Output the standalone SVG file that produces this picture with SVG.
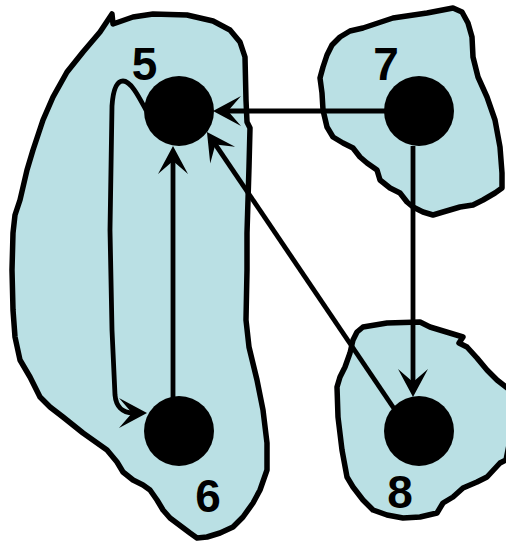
<svg xmlns="http://www.w3.org/2000/svg" width="506" height="543" viewBox="0 0 506 543">
<style>
.blob{fill:#bae0e4;stroke:#000;stroke-width:5.5;stroke-linejoin:round}
.edge{fill:none;stroke:#000;stroke-width:4.8}
.node{fill:#000}
.lbl{font-family:"Liberation Sans",Arial,sans-serif;font-weight:bold;font-size:46px;fill:#000;text-anchor:middle}
</style>
<defs>
<marker id="arr" markerUnits="userSpaceOnUse" viewBox="-29 -17 31 34" refX="-14" refY="0" markerWidth="31" markerHeight="34" orient="auto">
<path d="M0,0 L-28,-15 L-15,0 L-28,15 Z" fill="#000"/>
</marker>
</defs>
<g id="regions">
<path id="region-56" class="blob" d="M112,14 L113,24 L133,17 L153,14 L187,15 L213,21 L230,30 L240,42 L245,57 L246,100 L247,122 L250,128 L249,167 L248,200 L247,233 L247,270 L246,320 L249,347 L257,380 L263,410 L267,443 L267,470 L260,490 L253,503 L243,517 L233,527 L220,533 L207,537 L197,538 L190,533 L182,527 L170,518 L163,510 L157,500 L150,490 L143,485 L133,480 L123,472 L117,462 L107,450 L83,433 L63,417 L50,407 L40,397 L30,377 L20,360 L15,337 L13,310 L12,270 L13,233 L15,215 L20,200 L27,170 L33,150 L43,120 L53,97 L67,72 L83,52 L100,32 Z"/>
<path id="region-7" class="blob" d="M350,31 L363,28 L393,18 L427,13 L453,8 L462,12 L468,23 L472,37 L473,57 L478,77 L487,97 L495,120 L500,147 L502,173 L502,188 L495,193 L483,200 L473,205 L460,207 L443,212 L433,215 L423,212 L413,207 L407,202 L400,193 L390,188 L380,180 L377,170 L367,163 L360,157 L353,148 L343,143 L333,137 L327,127 L323,110 L322,93 L320,78 L323,67 L327,55 L332,45 L340,37 Z"/>
<path id="region-8" class="blob" d="M357,332 L363,327 L387,323 L420,322 L430,327 L463,337 L459,343 L467,347 L477,358 L487,370 L497,380 L510,390 L512,430 L506,460 L500,463 L487,477 L477,482 L463,488 L453,497 L443,503 L437,513 L420,517 L403,518 L387,515 L373,510 L363,500 L353,487 L347,477 L342,450 L338,417 L337,387 L340,377 L345,367 L350,353 L353,340 Z"/>
</g>
<g id="connectors">
<path id="e7-5" class="edge" d="M390,111 L227,111" marker-end="url(#arr)"/>
<path id="e6-5" class="edge" d="M173,400 L173,160" marker-end="url(#arr)"/>
<path id="e8-5" class="edge" d="M395,410 L214.8,143.6" marker-end="url(#arr)"/>
<path id="e7-8" class="edge" d="M413,146 L413,383" marker-end="url(#arr)"/>
<path id="e5-6" class="edge" d="M146,110 C139,97 131,81 123,81 C116,81 113,91 112,106 L110,230 L112,330 L115,395 C116,406 122,413 133,413" marker-end="url(#arr)"/>
</g>
<g id="node-5"><circle class="node" cx="179" cy="111" r="35"/><text class="lbl" x="144.5" y="80">5</text></g>
<g id="node-6"><circle class="node" cx="179" cy="431" r="35"/><text class="lbl" x="208" y="512">6</text></g>
<g id="node-7"><circle class="node" cx="419" cy="111" r="35"/><text class="lbl" x="386" y="80">7</text></g>
<g id="node-8"><circle class="node" cx="419" cy="431" r="35"/><text class="lbl" x="400" y="508">8</text></g>
</svg>
